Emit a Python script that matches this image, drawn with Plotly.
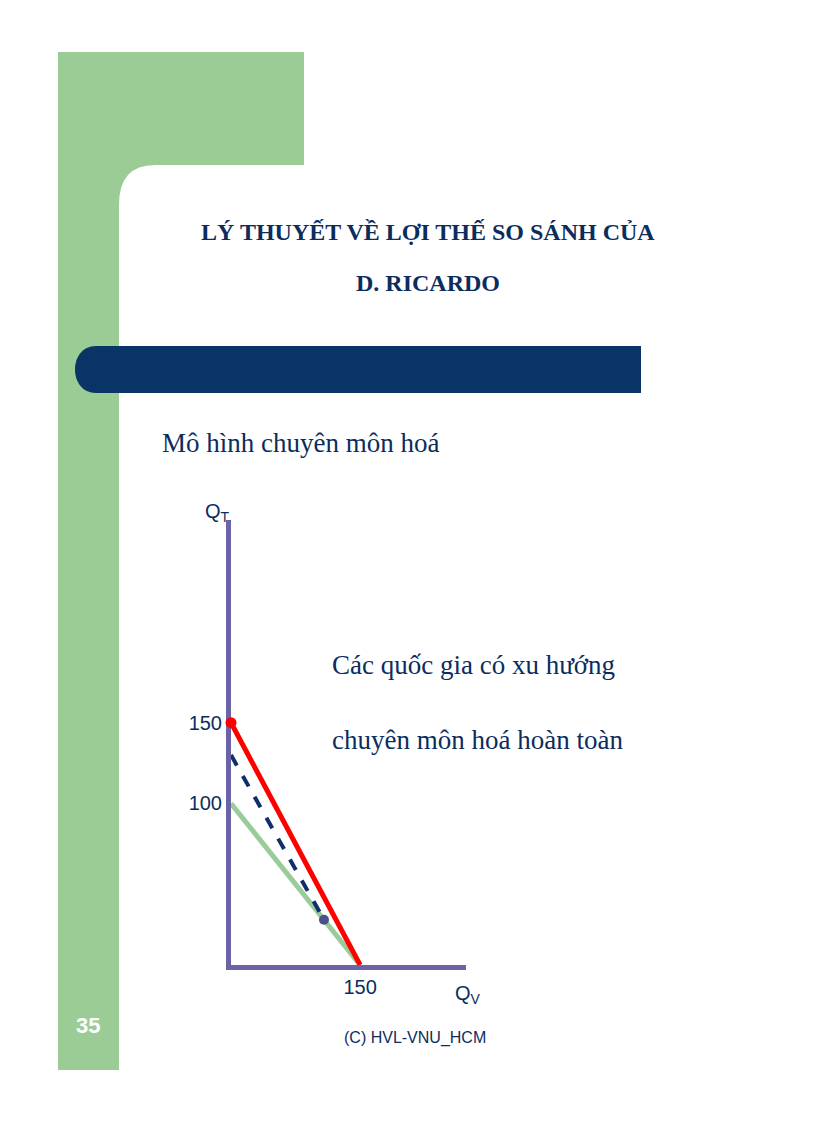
import plotly.graph_objects as go

# Datos del modelo de especialización (Ricardo)
linea_roja_x = [0, 150]
linea_roja_y = [150, 0]
linea_verde_x = [0, 150]
linea_verde_y = [100, 0]
linea_discontinua_x = [0, 108]
linea_discontinua_y = [130, 28]
punto_rojo = (0, 150)
punto_azul = (108, 28)

ticks_x = [150]
ticks_y = [100, 150]

W, H = 816, 1123
OFF = 8  # margen del body de la página
AZUL = "#0b2d5e"
NARROW = "Liberation Sans Narrow, Arial Narrow, Liberation Sans, sans-serif"


def px(x):
    return (x - OFF) / W


def py(y):
    return 1 - (y - OFF) / H


fig = go.Figure()

fig.add_trace(go.Scatter(x=linea_verde_x, y=linea_verde_y, mode="lines",
                         line=dict(color="#99cc99", width=5), hoverinfo="skip"))
fig.add_trace(go.Scatter(x=linea_discontinua_x, y=linea_discontinua_y, mode="lines",
                         line=dict(color="#0f2f6a", width=4, dash="dash"), hoverinfo="skip"))
fig.add_trace(go.Scatter(x=linea_roja_x, y=linea_roja_y, mode="lines",
                         line=dict(color="#ff0000", width=5), hoverinfo="skip"))
fig.add_trace(go.Scatter(x=[punto_rojo[0]], y=[punto_rojo[1]], mode="markers",
                         marker=dict(color="#ff0000", size=11), cliponaxis=False,
                         hoverinfo="skip"))
fig.add_trace(go.Scatter(x=[punto_azul[0]], y=[punto_azul[1]], mode="markers",
                         marker=dict(color="#4b4f8c", size=10), cliponaxis=False,
                         hoverinfo="skip"))

# Fondo de la diapositiva
green_path = (f"M {px(58)},{py(52)} L {px(304)},{py(52)} L {px(304)},{py(165)} "
              f"L {px(155)},{py(165)} Q {px(119)},{py(165)} {px(119)},{py(205)} "
              f"L {px(119)},{py(1070)} L {px(58)},{py(1070)} Z")
bar_path = (f"M {px(641)},{py(346)} L {px(96)},{py(346)} "
            f"C {px(68)},{py(346)} {px(68)},{py(393)} {px(96)},{py(393)} "
            f"L {px(641)},{py(393)} Z")

shapes = [
    dict(type="path", xref="paper", yref="paper", path=green_path,
         fillcolor="#9ccc96", line=dict(width=0), layer="below"),
    dict(type="path", xref="paper", yref="paper", path=bar_path,
         fillcolor="#0a3366", line=dict(width=0), layer="below"),
]

annotations = [
    dict(text="<b>LÝ THUYẾT VỀ LỢI THẾ SO SÁNH CỦA</b>", x=px(428), y=py(232)),
    dict(text="<b>D. RICARDO</b>", x=px(428), y=py(283)),
]
for a in annotations:
    a.update(xref="paper", yref="paper", showarrow=False, xanchor="center", yanchor="middle",
             font=dict(family="Liberation Serif", size=24, color=AZUL))

textos = [
    ("Mô hình chuyên môn hoá", 160, 443),
    ("Các quốc gia có xu hướng", 330, 665),
    ("chuyên môn hoá hoàn toàn", 330, 740),
]
for t, x, y in textos:
    annotations.append(dict(text=t, x=px(x), y=py(y), xref="paper", yref="paper",
                            showarrow=False, xanchor="left", yanchor="middle",
                            font=dict(family="Liberation Serif", size=27, color=AZUL)))

etiquetas = [
    ("Q<sub>T</sub>", 218, 512, 20, AZUL),
    ("Q<sub>V</sub>", 468, 994, 20, AZUL),
    ("<b>35</b>", 88, 1025, 22, "white"),
    ("(C) HVL-VNU_HCM", 415, 1038, 16, AZUL),
]
for t, x, y, s, c in etiquetas:
    annotations.append(dict(text=t, x=px(x), y=py(y), xref="paper", yref="paper",
                            showarrow=False, xanchor="center", yanchor="middle",
                            font=dict(family=NARROW, size=s, color=c)))

AXIS = "#6a64a6"
fig.update_layout(
    width=W, height=H,
    margin=dict(l=0, r=0, t=0, b=0),
    paper_bgcolor="white", plot_bgcolor="rgba(0,0,0,0)",
    showlegend=False,
    shapes=shapes,
    annotations=annotations,
    xaxis=dict(domain=[px(231), px(466)], range=[0, 273], showgrid=False, zeroline=False,
               showline=True, linecolor=AXIS, linewidth=5, tickvals=ticks_x,
               ticks="", tickfont=dict(family=NARROW, size=20, color=AZUL),
               layer="below traces", fixedrange=True),
    yaxis=dict(domain=[py(965), py(520)], range=[0, 275.5], showgrid=False,
               zeroline=False, showline=True, linecolor=AXIS, linewidth=5,
               tickvals=ticks_y, ticks="",
               tickfont=dict(family=NARROW, size=20, color=AZUL),
               layer="below traces", fixedrange=True),
)

fig.write_html("out.html")
